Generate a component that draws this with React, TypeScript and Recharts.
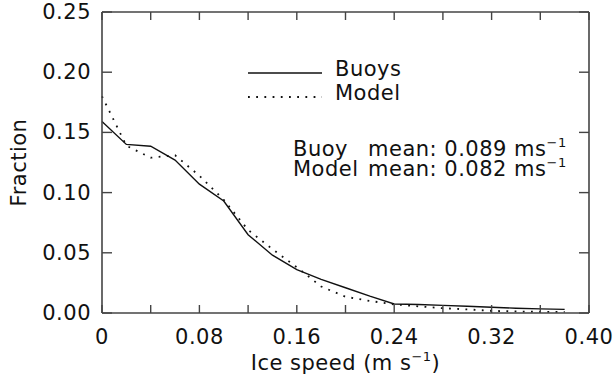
import React from 'react';
import { ComposedChart, Line, Scatter, XAxis, YAxis, Customized } from 'recharts';

// Ice speed bins (m/s)
const speed = [0, 0.02, 0.04, 0.06, 0.08, 0.1, 0.12, 0.14, 0.16, 0.18, 0.2, 0.22, 0.24, 0.26, 0.28, 0.3, 0.32, 0.34, 0.36, 0.38];
// Fraction of observations per bin
const buoys = [0.159, 0.14, 0.1385, 0.127, 0.107, 0.093, 0.065, 0.048, 0.036, 0.028, 0.021, 0.014, 0.0075, 0.007, 0.0063, 0.0056, 0.0048, 0.004, 0.0034, 0.003];
const model = [0.18, 0.139, 0.129, 0.131, 0.114, 0.094, 0.069, 0.053, 0.038, 0.022, 0.0135, 0.01, 0.0072, 0.0055, 0.004, 0.003, 0.0018, 0.0013, 0.001, 0.001];

const xTicks = [0, 0.04, 0.08, 0.12, 0.16, 0.2, 0.24, 0.28, 0.32, 0.36, 0.4];
const xLabels: Record<string, string> = { '0': '0', '0.08': '0.08', '0.16': '0.16', '0.24': '0.24', '0.32': '0.32', '0.4': '0.40' };
const yTicks = [0, 0.05, 0.1, 0.15, 0.2, 0.25];

const seriesNames = ['Buoys', 'Model'];
const buoyMean = '0.089';
const modelMean = '0.082';

const X_MAX = 0.4;
const Y_MAX = 0.25;

const data = speed.map((s, i) => ({ speed: s, buoys: buoys[i], model: model[i] }));

// Frame edges and tick anchors, built from the axis domains and tick lists
const topEdge = [{ speed: 0, f: Y_MAX }, { speed: X_MAX, f: Y_MAX }];
const rightEdge = [{ speed: X_MAX, f: 0 }, { speed: X_MAX, f: Y_MAX }];
const bottomTickPts = xTicks.map((t) => ({ speed: t, f: 0 }));
const topTickPts = xTicks.map((t) => ({ speed: t, f: Y_MAX }));
const leftTickPts = yTicks.map((v) => ({ speed: 0, f: v }));
const rightTickPts = yTicks.map((v) => ({ speed: X_MAX, f: v }));

const FONT = 'DejaVu Sans';
const FS = 21;
const LS = 0.5;
const INK = '#111';
const FRAME = '#444';
const DOTS = '1.8 6.4';

const fmtKey = (v: number) => String(Math.round(v * 100) / 100);

const tickMark = (dx: number, dy: number) => (p: any) => (
  <line x1={p.cx} y1={p.cy} x2={p.cx + dx} y2={p.cy + dy} stroke={FRAME} strokeWidth={1.4} />
);

const BottomLabel = (p: any) => {
  const { x, y, payload } = p;
  const lbl = xLabels[fmtKey(payload.value)];
  if (lbl === undefined) return <g />;
  return (
    <text x={x} y={y + 31} textAnchor="middle" fontFamily={FONT} fontSize={FS} letterSpacing={LS} fill={INK}>
      {lbl}
    </text>
  );
};

const LeftLabel = (p: any) => {
  const { x, y, payload } = p;
  return (
    <text x={x - 11} y={y + 7} textAnchor="end" fontFamily={FONT} fontSize={FS} letterSpacing={LS} fill={INK}>
      {payload.value.toFixed(2)}
    </text>
  );
};

const SeriesKey = () => (
  <g fontFamily={FONT} fontSize={FS} letterSpacing={LS} fill={INK}>
    <line x1={248} y1={73} x2={322} y2={73} stroke={INK} strokeWidth={1.4} />
    <text x={335} y={76}>{seriesNames[0]}</text>
    <line x1={248} y1={97} x2={322} y2={97} stroke={INK} strokeWidth={1.8} strokeDasharray={DOTS} />
    <text x={335} y={100}>{seriesNames[1]}</text>
  </g>
);

const MeanNote = () => (
  <text fontFamily={FONT} fontSize={FS} letterSpacing={LS} fill={INK}>
    <tspan x={293} y={156}>Buoy</tspan>
    <tspan x={368} y={156}>{`mean: ${buoyMean} ms`}</tspan>
    <tspan fontSize={13} dy={-9}>−1</tspan>
    <tspan x={293} y={176}>Model</tspan>
    <tspan x={368} y={176}>{`mean: ${modelMean} ms`}</tspan>
    <tspan fontSize={13} dy={-9}>−1</tspan>
  </text>
);

const YTitle = (p: any) => {
  const vb = p.viewBox;
  const cx = vb.x + 7;
  const cy = vb.y + vb.height / 2;
  return (
    <text x={cx} y={cy} transform={`rotate(-90 ${cx} ${cy})`} textAnchor="middle" dominantBaseline="central" fontFamily={FONT} fontSize={FS} letterSpacing={LS} fill={INK}>
      Fraction
    </text>
  );
};

const XTitle = (p: any) => {
  const vb = p.viewBox;
  const cx = vb.x + vb.width / 2;
  return (
    <text x={cx} y={vb.y + 57} textAnchor="middle" fontFamily={FONT} fontSize={FS} letterSpacing={LS} fill={INK}>
      {'Ice speed (m s'}
      <tspan fontSize={13} dy={-9}>−1</tspan>
      <tspan dy={9}>)</tspan>
    </text>
  );
};

export default function App() {
  return (
    <div style={{ position: 'absolute', left: 0, top: 0, width: 613, height: 377, background: '#fff' }}>
      <ComposedChart width={613} height={377} data={data} margin={{ top: 12, right: 24, bottom: 14, left: 12 }}>
        <XAxis
          dataKey="speed"
          type="number"
          domain={[0, X_MAX]}
          ticks={xTicks}
          interval={0}
          height={50}
          tickSize={0}
          tickMargin={0}
          tickLine={false}
          axisLine={{ stroke: FRAME, strokeWidth: 1.6 }}
          tick={BottomLabel}
          label={<XTitle />}
        />
        <YAxis
          type="number"
          domain={[0, Y_MAX]}
          ticks={yTicks}
          interval={0}
          width={90}
          tickSize={0}
          tickMargin={0}
          tickLine={false}
          axisLine={{ stroke: FRAME, strokeWidth: 1.6 }}
          tick={LeftLabel}
          label={<YTitle />}
        />
        <Line data={topEdge} dataKey="f" stroke={FRAME} strokeWidth={1.6} dot={false} activeDot={false} legendType="none" isAnimationActive={false} />
        <Line data={rightEdge} dataKey="f" stroke={FRAME} strokeWidth={1.6} dot={false} activeDot={false} legendType="none" isAnimationActive={false} />
        <Scatter data={bottomTickPts} dataKey="f" shape={tickMark(0, -8)} legendType="none" isAnimationActive={false} />
        <Scatter data={topTickPts} dataKey="f" shape={tickMark(0, 8)} legendType="none" isAnimationActive={false} />
        <Scatter data={leftTickPts} dataKey="f" shape={tickMark(10, 0)} legendType="none" isAnimationActive={false} />
        <Scatter data={rightTickPts} dataKey="f" shape={tickMark(-10, 0)} legendType="none" isAnimationActive={false} />
        <Line
          type="linear"
          dataKey="buoys"
          name="Buoys"
          stroke={INK}
          strokeWidth={1.4}
          dot={false}
          activeDot={false}
          isAnimationActive={false}
        />
        <Line
          type="linear"
          dataKey="model"
          name="Model"
          stroke={INK}
          strokeWidth={1.8}
          strokeDasharray={DOTS}
          dot={false}
          activeDot={false}
          isAnimationActive={false}
        />
        <Customized component={<SeriesKey />} />
        <Customized component={<MeanNote />} />
      </ComposedChart>
    </div>
  );
}
